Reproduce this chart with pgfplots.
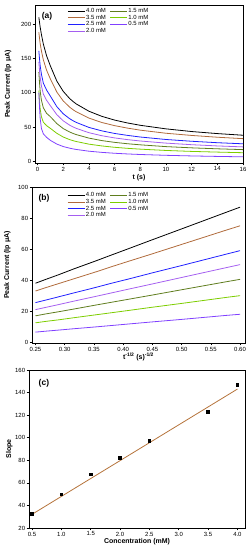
\documentclass[border=0pt]{standalone}
\usepackage{pgfplots}
\pgfplotsset{compat=1.18}
\usepackage{pgfplotstable}
\usepackage{fontspec}
\setmainfont{Liberation Sans}

\definecolor{cBrown}{RGB}{176,106,59}
\definecolor{cBlue}{RGB}{32,32,255}
\definecolor{cPurple}{RGB}{165,95,240}
\definecolor{cDkGreen}{RGB}{95,125,30}
\definecolor{cLtGreen}{RGB}{125,205,0}
\definecolor{cViolet}{RGB}{128,64,255}
\definecolor{cFit}{RGB}{181,115,58}

\pgfplotstableread{
t    sx     c40   c35   c25   c20   c15   c10   c05
0.1  3.162  210   188   161   145   130   103   100
0.15 2.582  203   180   150   133   115   88    80
0.2  2.236  196   172   140   123   103   77    63
0.3  1.826  185   161   127   110   89    65    48
0.45 1.491  171   148   114   98    78    57    40
0.7  1.195  154   133   104   89    70    52    35
1    1.000  139   120   95    81    65    48    30.5
1.5  0.816  117   101   79.7  68    55    40.8  25.1
2    0.707  102   88    69.3  59    47.7  35.4  21.5
2.5  0.632  91.5  79    62.1  52.7  42.7  31.6  19.1
2.78 0.600  87    75    59    50    40.5  30    18
3    0.577  83.8  72.3  56.8  48.1  39    28.9  17.3
4    0.500  73    63    49.4  41.7  33.8  25    14.7
5    0.447  65.6  56.6  44.4  37.3  30.2  22.4  13
6    0.408  60.1  52    40.6  34.1  27.6  20.4  11.7
7    0.378  55.9  48.4  37.8  31.6  25.6  18.9  10.7
8    0.354  52.5  45.4  35.4  29.6  24    17.7  9.9
10   0.316  47.3  40.9  31.8  26.5  21.4  15.8  8.7
12   0.289  43.4  37.7  29.2  24.2  19.6  14.4  7.8
14   0.267  40.4  35.1  27.1  22.4  18.2  13.4  7.1
16   0.250  38    33    25.5  21    17    12.5  6.5
}\dataA

\pgfplotstableread{
conc slope
0.5  32.7
1.0  49.9
1.5  67.6
2.0  82.1
2.5  97.0
3.5  122.7
4.0  147.0
}\dataC

\pgfplotsset{
 panel/.style={
  scale only axis,
  axis line style={line width=0.8pt},
  tick style={line width=0.6pt, black},
  tick align=outside,
  major tick length=2.5pt,
  xtick pos=left, ytick pos=left,
  ticklabel style={font=\fontsize{6}{7}\selectfont, inner sep=1.2pt},
  /pgf/number format/assume math mode=true,
  every axis x label/.style={anchor=center, font=\bfseries\fontsize{7}{8}\selectfont},
  every axis y label/.style={rotate=90, anchor=center, font=\bfseries\fontsize{7}{8}\selectfont},
  legend style={draw=none, fill=none, font=\fontsize{6}{6.8}\selectfont, anchor=north west, inner sep=0pt, row sep=-0.6pt, nodes={inner sep=0.8pt}, /tikz/every even column/.append style={column sep=3pt}},
  legend columns=2,
  legend cell align=left,
  every axis plot/.append style={line width=0.8pt},
 }
}

\begin{document}
\begin{tikzpicture}
\useasboundingbox (0,0) rectangle (250bp,550bp);

% Panel (a)
\begin{axis}[panel, at={(35bp,387bp)}, anchor=south west, width=208bp, height=158bp,
  xmin=-0.2, xmax=16, ymin=-2.5, ymax=228,
  xtick={0,2,...,16}, ytick={0,50,100,150,200},
  xlabel={t (s)}, ylabel={Peak Current (Ip μA)},
  x label style={at={(axis description cs:0.5,-0.095)}},
  y label style={at={(axis description cs:-0.13,0.5)}},
  legend style={at={(0.155,0.985)}}]
\addplot[no marks, black] table[x=t, y=c40] {\dataA};
\addplot[no marks, cDkGreen] table[x=t, y=c15] {\dataA};
\addplot[no marks, cBrown] table[x=t, y=c35] {\dataA};
\addplot[no marks, cLtGreen] table[x=t, y=c10] {\dataA};
\addplot[no marks, cBlue] table[x=t, y=c25] {\dataA};
\addplot[no marks, cViolet] table[x=t, y=c05] {\dataA};
\addplot[no marks, cPurple] table[x=t, y=c20] {\dataA};
\legend{4.0 mM, 1.5 mM, 3.5 mM, 1.0 mM, 2.5 mM, 0.5 mM, 2.0 mM}
\node[font=\bfseries\fontsize{8.5}{9}\selectfont] at (axis description cs:0.058,0.93) {(a)};
\end{axis}

% Panel (b)
\begin{axis}[panel, at={(32bp,207bp)}, anchor=south west, width=213bp, height=156bp,
  xmin=0.244, xmax=0.6085, ymin=-0.5, ymax=100,
  xtick={0.25,0.30,...,0.61}, ytick={0,20,...,100},
  xticklabel style={/pgf/number format/.cd, fixed, fixed zerofill, precision=2},
  xlabel={t\textsuperscript{-1/2} (s)\textsuperscript{-1/2}}, ylabel={Peak Current (Ip μA)},
  x label style={at={(axis description cs:0.5,-0.088)}},
  y label style={at={(axis description cs:-0.116,0.5)}},
  restrict x to domain=0.24:0.601,
  legend style={at={(0.165,0.97)}}]
\addplot[no marks, black] table[x=sx, y=c40] {\dataA};
\addplot[no marks, cDkGreen] table[x=sx, y=c15] {\dataA};
\addplot[no marks, cBrown] table[x=sx, y=c35] {\dataA};
\addplot[no marks, cLtGreen] table[x=sx, y=c10] {\dataA};
\addplot[no marks, cBlue] table[x=sx, y=c25] {\dataA};
\addplot[no marks, cViolet] table[x=sx, y=c05] {\dataA};
\addplot[no marks, cPurple] table[x=sx, y=c20] {\dataA};
\legend{4.0 mM, 1.5 mM, 3.5 mM, 1.0 mM, 2.5 mM, 0.5 mM, 2.0 mM}
\node[font=\bfseries\fontsize{8.5}{9}\selectfont] at (axis description cs:0.056,0.93) {(b)};
\end{axis}

% Panel (c)
\begin{axis}[panel, at={(29bp,22bp)}, anchor=south west, width=216bp, height=158bp,
  xmin=0.449, xmax=4.13, ymin=20, ymax=160,
  xtick={0.5,1.0,...,4.01}, ytick={20,40,...,160},
  xticklabel style={/pgf/number format/.cd, fixed, fixed zerofill, precision=1},
  xlabel={Concentration (mM)}, ylabel={Slope},
  x label style={at={(axis description cs:0.5,-0.089)}},
  y label style={at={(axis description cs:-0.091,0.5)}}]
\addplot[no marks, cFit, line width=0.8pt] coordinates {(0.5,32.1) (4.0,143.1)};
\addplot[only marks, mark=square*, mark size=1.3pt, black] table[x=conc, y=slope] {\dataC};
\node[font=\bfseries\fontsize{8.5}{9}\selectfont] at (axis description cs:0.069,0.918) {(c)};
\end{axis}
\end{tikzpicture}
\end{document}
